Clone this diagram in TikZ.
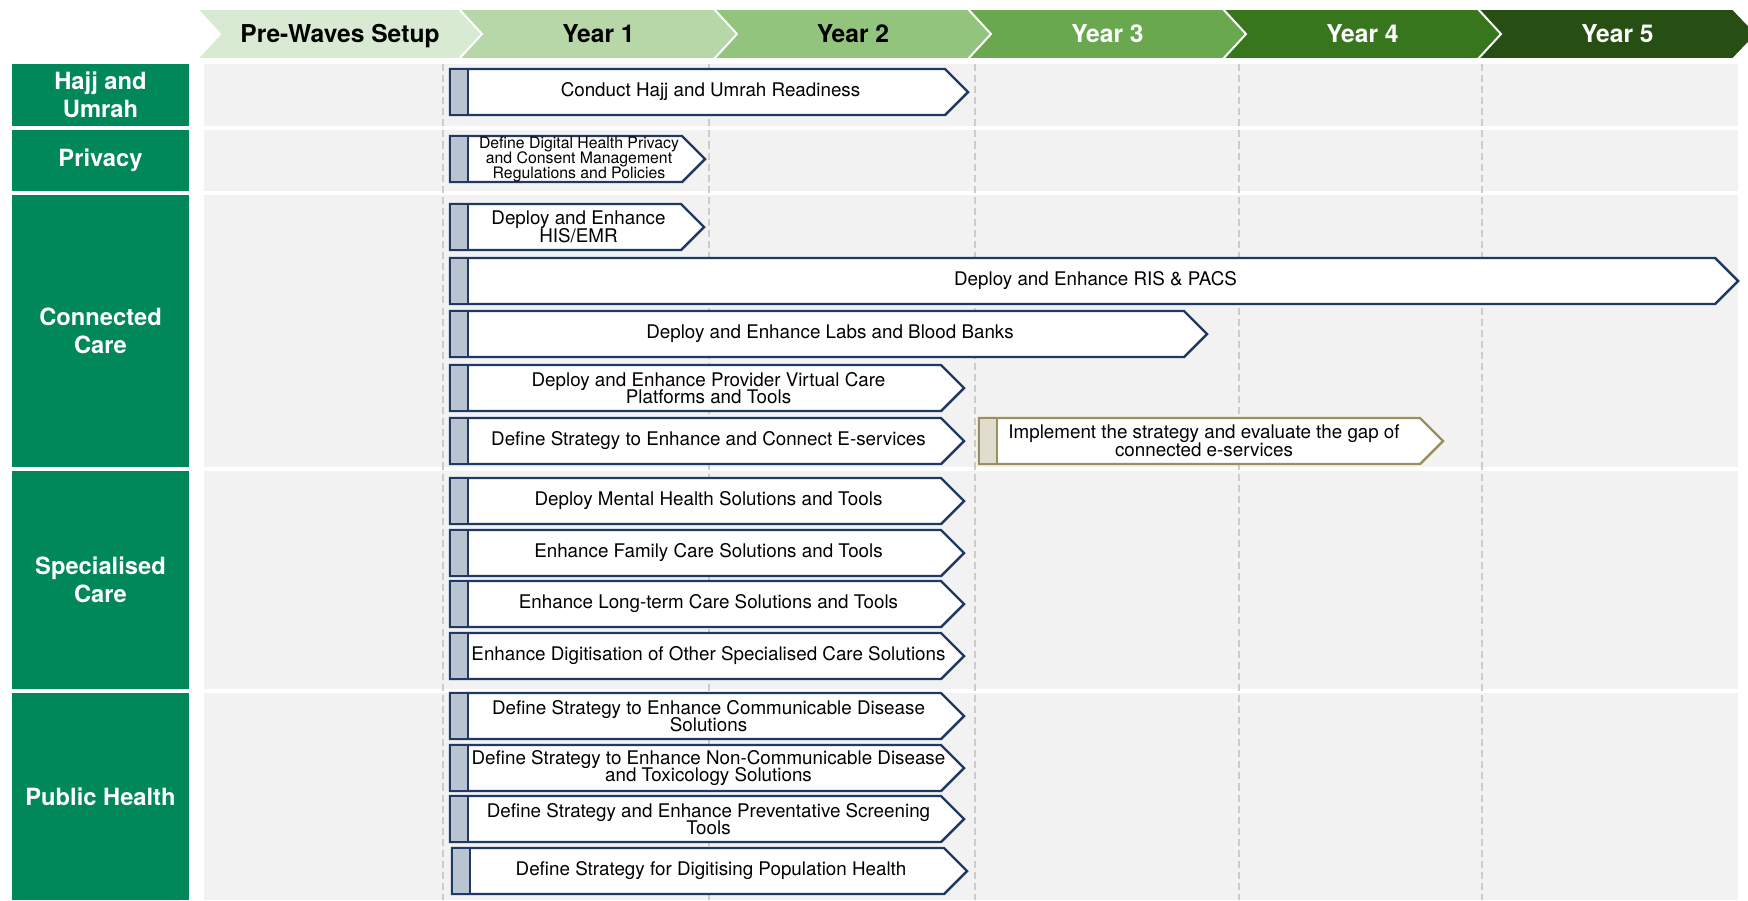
\documentclass[tikz,border=0pt]{standalone}
\usepackage{fontspec}
\setmainfont{TeX Gyre Heros}
\usepackage{tikz}
\definecolor{catgreen}{HTML}{00875A}
\definecolor{bandgray}{HTML}{F2F2F2}
\definecolor{gridgray}{HTML}{CCCCCC}
\definecolor{barblue}{HTML}{1F3864}
\definecolor{tabblue}{HTML}{B8C4D0}
\definecolor{barolive}{HTML}{9C8F5E}
\definecolor{tabolive}{HTML}{E0DDD0}
\definecolor{hdrpre}{HTML}{D9EAD3}
\definecolor{hdrone}{HTML}{B7D7A8}
\definecolor{hdrtwo}{HTML}{93C47D}
\definecolor{hdrthree}{HTML}{6AA84F}
\definecolor{hdrfour}{HTML}{38761D}
\definecolor{hdrfive}{HTML}{274E13}
\newcommand{\tightlines}{\lineskiplimit=-10pt\relax}

\begin{document}
\begin{tikzpicture}[x=0.02cm, y=-0.02cm,
    hdrtext/.style={font=\fontsize{14}{16}\selectfont\bfseries, inner sep=0pt, anchor=base},
    cattext/.style={font=\fontsize{13.5}{16}\selectfont\bfseries, text=white,
                    align=center, inner sep=0pt},
    grid/.style={gridgray, line width=0.85pt, dash pattern=on 4pt off 2.3pt},
    taskbar/.style={draw=barblue, fill=white, line width=1.4pt, line join=miter},
    tabbox/.style={draw=barblue, fill=tabblue, line width=1.4pt},
    tasktext/.style={font=\fontsize{10.7}{10}\selectfont\tightlines,
                     align=center, inner sep=0pt},
    smalltext/.style={font=\fontsize{9}{8.5}\selectfont\tightlines,
                      align=center, inner sep=0pt}]
  \useasboundingbox (0,0) rectangle (1748,900);
  % the header: a row of chevrons
  \foreach \n/\a/\b/\c/\tc/\t in {pre/197/459/hdrpre/black/Pre-Waves Setup,
      yone/459/714/hdrone/black/Year 1, ytwo/714/968/hdrtwo/black/Year 2,
      ythree/968/1223/hdrthree/white/Year 3, yfour/1223/1478/hdrfour/white/Year 4,
      yfive/1478/1733/hdrfive/white/Year 5}{
    \filldraw[fill=\c, draw=white, line width=1.1pt] (\a,9) -- (\b,9) -- (\b+24,34)
      -- (\b,59) -- (\a,59) -- (\a+23,34) -- cycle;
    \node[hdrtext, text=\tc] (\n) at ({(\a+\b)/2+12},42) {\t};}
  % the rows: green label and grey band
  \foreach \n/\ya/\yb/\t in {hajjcat/64/126/{Hajj and\\Umrah},
      privcat/130/191/Privacy, conncat/195/467/{Connected\\Care},
      speccat/471/689/{Specialised\\Care}, pubcat/693/900/Public Health}{
    \fill[catgreen] (12,\ya) rectangle (189,\yb);
    \fill[bandgray] (204,\ya) rectangle (1738,\yb);
    \node[cattext] (\n) at (100.5,{(\ya+\yb)/2}) {\t};}
  % the year lines
  \foreach \x in {443,709,975,1239,1482}{
    \draw[grid] (\x,64) -- (\x,900);}
  % the tasks
  \foreach \n/\xs/\y/\xe/\st/\t in {
      hajj/450/69/945/tasktext/{Conduct Hajj and Umrah Readiness},
      privacy/450/136/682/smalltext/{Define Digital Health Privacy\\and Consent Management\\Regulations and Policies},
      his/450/204/681/tasktext/{Deploy and Enhance\\HIS/EMR},
      ris/450/258/1715/tasktext/{Deploy and Enhance RIS \& PACS},
      labs/450/311/1184/tasktext/{Deploy and Enhance Labs and Blood Banks},
      virtual/450/365/941/tasktext/{Deploy and Enhance Provider Virtual Care\\Platforms and Tools},
      eserv/450/418/941/tasktext/{Define Strategy to Enhance and Connect E-services},
      mental/450/478/941/tasktext/{Deploy Mental Health Solutions and Tools},
      family/450/530/941/tasktext/{Enhance Family Care Solutions and Tools},
      longterm/450/581/941/tasktext/{Enhance Long-term Care Solutions and Tools},
      digit/450/633/941/tasktext/{Enhance Digitisation of Other Specialised Care Solutions},
      commun/450/693/941/tasktext/{Define Strategy to Enhance Communicable Disease\\Solutions},
      noncomm/450/745/941/tasktext/{Define Strategy to Enhance Non-Communicable Disease\\and Toxicology Solutions},
      screen/450/796/941/tasktext/{Define Strategy and Enhance Preventative Screening\\Tools},
      pophealth/452/848/944/tasktext/{Define Strategy for Digitising Population Health}}{
    \draw[taskbar] (\xs,\y) -- (\xe,\y) -- (\xe+23,\y+23) -- (\xe,\y+46)
      -- (\xs,\y+46) -- cycle;
    \draw[tabbox] (\xs,\y) rectangle (\xs+18,\y+46);
    \node[\st] (\n) at ({(\xs+18+\xe)/2+4},\y+23) {\t};}
  % the follow-up task in year 3
  \draw[taskbar, draw=barolive] (979,418) -- (1420,418) -- (1443,441) -- (1420,464)
    -- (979,464) -- cycle;
  \draw[tabbox, draw=barolive, fill=tabolive] (979,418) rectangle (997,464);
  \node[tasktext] (implement) at (1204,441)
    {Implement the strategy and evaluate the gap of\\connected e-services};
\end{tikzpicture}
\end{document}
